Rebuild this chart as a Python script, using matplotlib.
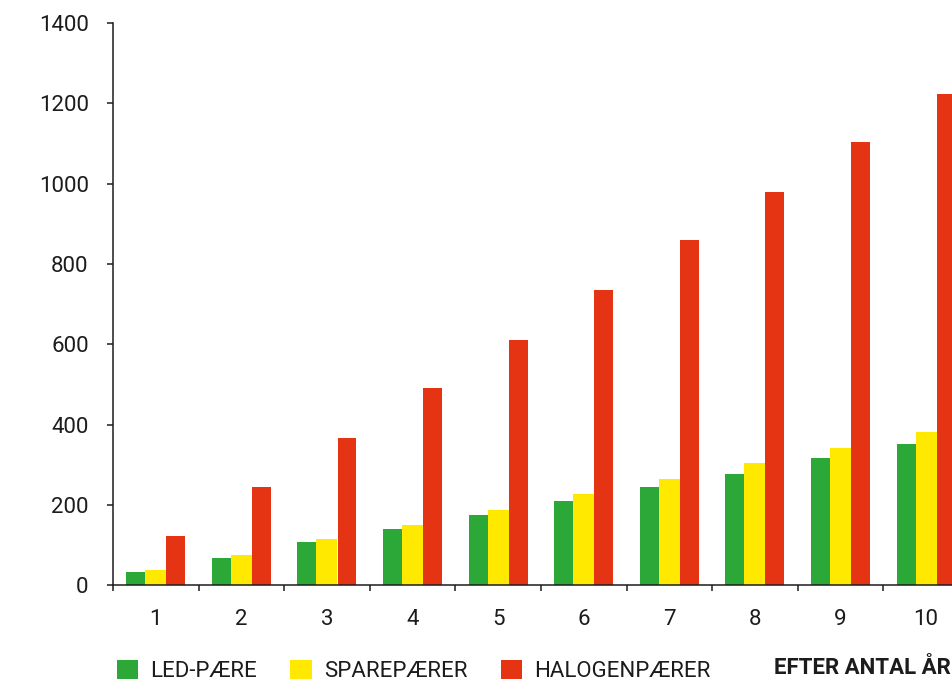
import matplotlib
matplotlib.use("Agg")
import matplotlib.pyplot as plt
import numpy as np

# Accumulated cost per year of use
years = [1, 2, 3, 4, 5, 6, 7, 8, 9, 10]
led = [33, 68, 108, 140, 175, 210, 245, 278, 318, 352]
spare = [38, 75, 115, 150, 188, 227, 265, 305, 343, 382]
halogen = [123, 245, 367, 492, 611, 736, 860, 980, 1104, 1224]
series_labels = ["LED-PÆRE", "SPAREPÆRER", "HALOGENPÆRER"]
y_ticks = [0, 200, 400, 600, 800, 1000, 1200, 1400]
x_caption = "EFTER ANTAL ÅR"

GREEN = "#2ca839"
YELLOW = "#ffe900"
RED = "#e53414"
INK = "#1c1c1c"

FONT = ["Roboto", "DejaVu Sans"]
plt.rcParams["font.family"] = FONT

fig = plt.figure(figsize=(9.53, 6.84), dpi=100)
ax = fig.add_axes([0.1186, 0.1443, 0.898, 0.822])

x = np.array(years, dtype=float)
b1 = ax.bar(x - 0.234, led, width=0.222, color=GREEN, linewidth=0)
b2 = ax.bar(x, spare, width=0.245, color=YELLOW, linewidth=0)
b3 = ax.bar(x + 0.234, halogen, width=0.222, color=RED, linewidth=0)

ax.set_xlim(0.5, 10.5)
ax.set_ylim(0, 1400)

for side in ("top", "right"):
    ax.spines[side].set_visible(False)
for side in ("left", "bottom"):
    ax.spines[side].set_color(INK)
    ax.spines[side].set_linewidth(1.1)

ax.set_yticks(y_ticks)
ax.set_yticklabels([str(v) for v in y_ticks])
ax.tick_params(axis="y", direction="out", length=4.5, width=1.1, color=INK,
               labelsize=16, labelcolor=INK, pad=13)

# group separators as minor ticks, labels at group centres
ax.set_xticks(years)
ax.set_xticklabels([str(v) for v in years])
ax.set_xticks(np.arange(0.5, 11, 1.0), minor=True)
ax.tick_params(axis="x", which="major", length=0, labelsize=16,
               labelcolor=INK, pad=17)
ax.tick_params(axis="x", which="minor", direction="out", length=4.5,
               width=1.1, color=INK)

leg = fig.legend([b1, b2, b3], series_labels, loc="lower left",
                 bbox_to_anchor=(0.1135, -0.010), ncol=3, frameon=False,
                 fontsize=16, handlelength=0.95, handleheight=0.95,
                 handletextpad=0.55, columnspacing=1.5, borderaxespad=0)
for t in leg.get_texts():
    t.set_color(INK)

fig.text(951 / 953, 1 - 668 / 684, x_caption, ha="right", va="center",
         fontsize=16, fontweight="bold", color=INK)

fig.savefig("out.png", dpi=100)
